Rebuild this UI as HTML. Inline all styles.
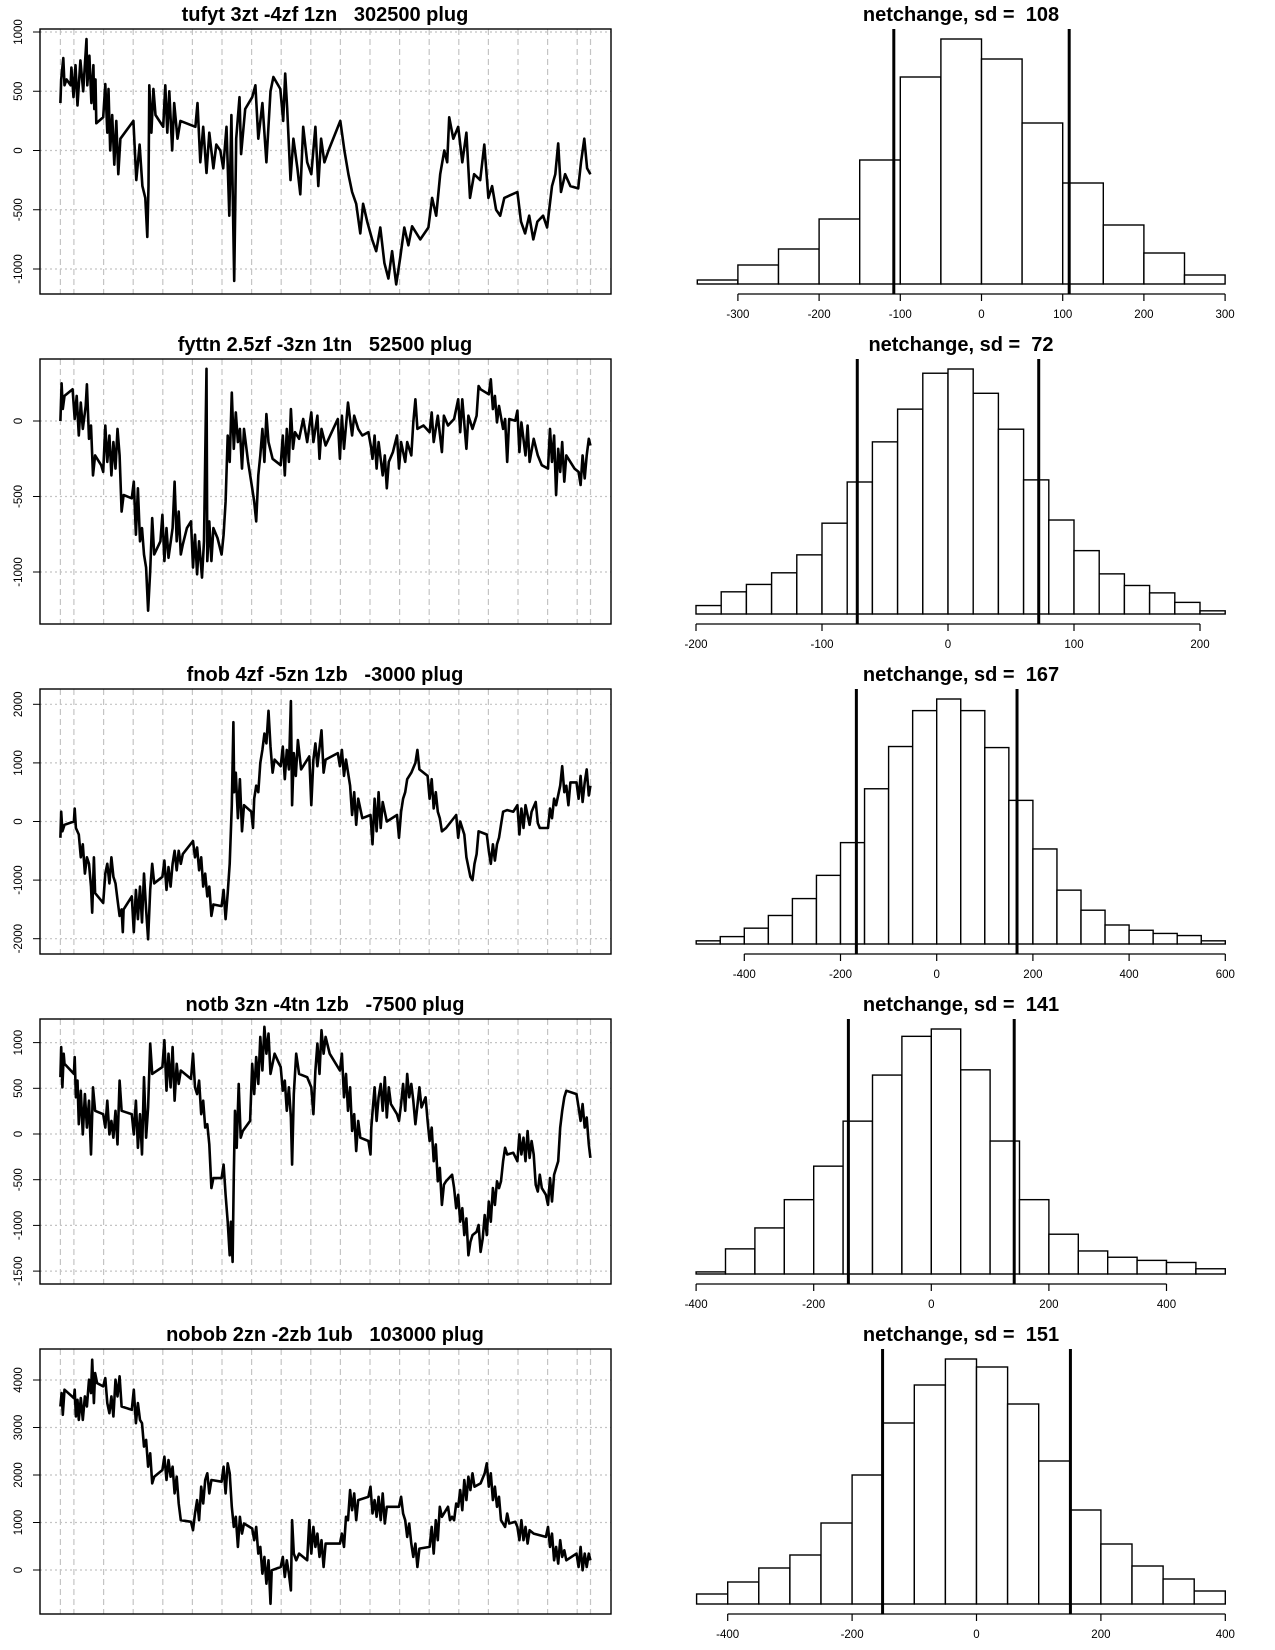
<!DOCTYPE html>
<html><head><meta charset="utf-8"><style>
body{margin:0;background:#fff}
svg{display:block;font-family:"Liberation Sans",sans-serif}
text{white-space:pre}
</style></head><body>
<svg id="chart" width="1275" height="1650" viewBox="0 0 1275 1650" xmlns="http://www.w3.org/2000/svg"></svg>
<script>
// ---- Left panel titles ----
const leftTitles = ["tufyt 3zt -4zf 1zn   302500 plug","fyttn 2.5zf -3zn 1tn   52500 plug","fnob 4zf -5zn 1zb   -3000 plug","notb 3zn -4tn 1zb   -7500 plug","nobob 2zn -2zb 1ub   103000 plug"];
const sdValues = [108,72,167,141,151];
// ---- y ticks for left panels ----
const yTicks1=[-1000,-500,0,500,1000];
const yTicks2=[-1000,-500,0];
const yTicks3=[-2000,-1000,0,1000,2000];
const yTicks4=[-1500,-1000,-500,0,500,1000];
const yTicks5=[0,1000,2000,3000,4000];
// ---- series (time index, value) ----
const t1=[0,2,7,10,15,25,27,32,37,42,49,56,64,66,71,76,81,83,86,88,105,110,115,118,122,127,132,137,142,147,179,186,194,201,208,213,216,218,223,228,233,252,257,262,267,274,279,287,294,331,336,343,350,358,365,375,382,392,399,407,414,419,426,431,439,443,453,470,478,485,495,505,515,522,539,546,551,556,564,571,581,588,595,605,615,625,632,639,647,657,686,696,706,715,725,735,742,752,764,774,784,794,804,813,823,833,843,853,862,882,902,911,921,931,941,948,953,963,975,985,995,1004,1014,1029,1039,1049,1058,1068,1078,1088,1120,1129,1139,1149,1159,1169,1183,1193,1205,1213,1220,1227,1237,1250,1269,1276,1284,1291,1299];
const v1=[400,600,780,550,600,550,700,450,720,380,760,500,940,550,800,400,720,350,600,230,280,560,150,520,0,300,-120,250,-200,100,250,-250,50,-300,-400,-730,-300,550,150,520,300,200,550,150,500,0,400,100,250,200,400,-100,200,-190,150,-150,50,0,-150,200,-550,300,-1100,100,450,-30,350,450,550,100,400,-100,500,620,520,250,650,350,-250,100,-150,-370,200,-100,-200,200,-300,100,-100,0,250,0,-200,-350,-450,-700,-450,-600,-750,-850,-650,-950,-1080,-850,-1130,-900,-650,-800,-640,-750,-650,-400,-550,-200,0,-100,280,100,200,-100,150,-400,-200,-250,50,-400,-300,-500,-550,-400,-350,-600,-700,-550,-750,-600,-550,-650,-300,-200,60,-350,-200,-300,-320,-100,100,-150,-200];
const t2=[0,3,6,10,30,35,40,45,50,55,62,65,70,75,80,85,100,105,110,115,120,125,130,135,140,145,150,155,175,180,185,190,195,200,205,210,215,220,225,230,245,250,255,260,265,275,280,285,290,295,300,310,320,325,330,335,340,347,352,358,360,365,370,375,385,395,400,405,410,415,420,425,430,435,440,445,450,460,470,475,480,485,490,495,500,505,510,520,540,545,550,555,560,565,570,575,585,595,605,615,620,630,635,640,650,665,680,685,690,695,705,715,720,730,740,755,762,765,770,775,780,790,795,800,805,815,825,830,835,845,850,860,865,870,875,890,905,910,915,925,935,940,950,965,975,980,985,995,1000,1010,1020,1025,1030,1050,1055,1060,1065,1070,1075,1085,1090,1095,1100,1115,1120,1125,1130,1140,1145,1150,1160,1170,1180,1195,1200,1205,1210,1215,1220,1225,1230,1235,1240,1260,1270,1275,1280,1285,1290,1295,1299];
const v2=[0,250,80,166,210,13,166,-96,122,-52,100,243,-118,-30,-360,-228,-293,-337,-30,-271,-96,-360,-140,-315,-52,-228,-600,-490,-512,-402,-753,-446,-797,-709,-884,-971,-1256,-993,-643,-884,-797,-621,-928,-709,-906,-709,-402,-797,-600,-884,-818,-709,-665,-971,-753,-1015,-797,-1037,-797,346,-928,-665,-928,-709,-775,-884,-753,-534,-96,-271,188,-184,57,-140,-52,-315,-52,-271,-446,-534,-665,-360,-228,-52,-271,46,-140,-250,-293,-96,-360,-52,-271,79,-184,-74,-118,13,-140,57,-140,35,-250,-52,-162,-74,13,-250,35,-184,122,-96,35,-52,-96,-74,-184,-250,-96,-315,-140,-360,-228,-446,-271,-206,-96,-315,-140,-271,-140,-228,-9,144,-52,-30,-74,57,-140,35,-206,35,-30,13,144,-74,144,-184,35,-52,35,232,210,177,276,79,166,-9,100,-52,13,-271,13,2,68,-206,-9,-228,-30,-271,-118,-228,-293,-315,-52,-271,-96,-490,-184,-337,-140,-402,-228,-315,-337,-424,-228,-380,-228,-118,-162];
const t3=[0,2,5,10,33,35,38,45,50,55,60,65,70,75,78,82,85,105,110,115,120,125,130,135,140,145,150,153,155,175,180,185,190,195,200,205,210,215,220,225,230,250,255,260,265,270,275,280,285,290,295,300,325,330,335,340,345,350,355,360,365,370,375,395,400,405,410,415,420,424,426,430,435,440,445,450,468,472,475,480,485,490,495,500,505,510,515,520,525,540,545,550,555,560,565,568,572,577,582,590,610,615,620,625,630,640,645,650,680,685,690,695,700,710,715,720,725,730,740,760,765,770,775,780,785,790,800,825,830,835,840,845,850,860,870,875,880,900,905,910,915,920,925,930,935,945,970,975,980,990,995,1000,1005,1010,1015,1020,1025,1045,1050,1055,1060,1065,1070,1075,1080,1085,1095,1110,1120,1125,1130,1135,1140,1150,1155,1165,1170,1175,1195,1200,1205,1210,1215,1225,1230,1235,1240,1245,1250,1265,1270,1275,1280,1285,1290,1295,1299];
const v3=[-278,167,-167,-56,0,222,-111,-222,-611,-389,-889,-611,-722,-1111,-1556,-611,-1222,-1389,-889,-722,-1056,-611,-944,-1056,-1333,-1611,-1500,-1889,-1500,-1278,-1889,-1167,-1667,-1111,-1722,-889,-1500,-2011,-1167,-722,-1056,-944,-667,-1167,-778,-1111,-722,-500,-833,-500,-722,-556,-333,-611,-444,-833,-611,-1111,-889,-1278,-1111,-1611,-1417,-1444,-1167,-1667,-1222,-722,278,1694,500,833,56,722,-167,278,167,-111,389,611,500,1000,1222,1500,1333,1889,1278,833,1056,944,1278,722,1222,889,2056,278,1167,778,1389,889,1111,278,1056,1333,944,1556,833,1056,1167,944,1222,778,1056,611,111,500,-56,389,56,111,-389,389,-167,500,-111,333,0,111,-278,167,389,500,722,833,1000,1222,889,778,389,722,222,500,167,56,-167,-111,111,-278,0,-222,-611,-778,-944,-1000,-722,-556,-167,-222,-500,-722,-389,-667,-389,-278,-56,167,194,167,278,-222,222,-111,278,-56,167,333,-28,-111,-111,222,56,389,278,611,944,500,611,278,667,667,389,778,333,667,889,444,611];
const t4=[0,2,5,8,10,33,35,38,42,45,50,55,60,65,70,75,80,85,105,110,115,120,125,130,135,140,145,150,175,180,185,190,195,200,205,210,215,220,225,250,255,260,265,270,275,280,285,290,295,320,325,330,335,340,345,350,355,360,365,370,375,395,400,405,410,415,418,422,425,428,432,437,442,447,465,470,475,480,485,490,495,500,505,510,515,525,540,545,550,555,560,565,568,572,578,585,605,615,620,625,630,635,640,645,650,660,685,690,695,700,705,710,715,720,725,730,735,755,760,762,766,770,775,780,785,790,795,800,805,810,825,830,835,840,845,850,855,860,865,870,880,885,895,900,905,910,915,920,925,930,935,940,945,960,965,970,975,980,985,990,995,1000,1005,1010,1020,1025,1030,1035,1040,1045,1050,1055,1060,1065,1070,1075,1080,1085,1090,1095,1110,1120,1125,1130,1135,1140,1145,1150,1155,1160,1165,1170,1175,1180,1190,1195,1200,1205,1210,1220,1225,1230,1235,1240,1265,1270,1275,1280,1285,1290,1295,1299];
const v4=[621,952,511,879,768,658,842,401,584,107,474,-4,437,70,364,-224,511,254,217,70,364,-4,143,-40,254,-114,584,254,217,-4,364,-151,217,-224,621,-40,291,989,658,732,1026,474,879,511,952,364,768,548,695,603,879,511,437,584,217,364,70,107,-114,-592,-482,-482,-335,-665,-959,-1327,-959,-1400,-445,254,-151,548,-40,33,143,768,437,842,548,1062,695,1173,879,1099,658,879,732,474,584,254,511,180,-335,437,879,658,621,511,217,695,989,658,1136,879,1062,879,695,879,401,658,254,511,33,217,-187,143,-40,-77,-224,70,291,511,143,401,548,254,621,180,511,327,217,143,327,548,254,658,401,548,364,107,511,291,401,143,-77,70,-298,-114,-518,-371,-776,-555,-518,-445,-592,-812,-665,-959,-812,-1106,-923,-1327,-1180,-1106,-1070,-996,-1290,-1143,-886,-1106,-739,-959,-592,-776,-518,-592,-518,-298,-151,-224,-206,-298,-4,-224,-40,-298,33,-261,-77,-224,-555,-629,-445,-592,-665,-776,-482,-739,-445,-298,70,254,401,474,437,291,143,327,70,180,-114,-261];
const t5=[0,3,6,10,33,35,38,42,45,50,55,60,65,70,75,78,82,85,90,105,110,115,120,125,130,135,140,145,150,175,180,185,190,195,200,205,210,215,220,225,230,250,255,260,265,270,275,280,285,290,295,320,325,330,335,340,345,350,355,360,365,370,395,400,405,410,415,420,425,430,435,440,445,450,470,475,480,485,490,495,500,505,510,515,518,540,545,550,555,560,565,568,572,578,585,605,610,615,620,625,630,635,640,645,650,685,690,695,700,705,710,715,720,725,730,755,760,765,770,775,780,785,790,795,800,830,835,840,845,850,855,860,865,870,875,880,905,910,915,920,925,930,935,950,955,960,965,970,975,980,985,990,995,1000,1005,1010,1015,1030,1040,1045,1050,1055,1060,1065,1070,1075,1080,1090,1095,1100,1115,1120,1125,1130,1135,1140,1145,1150,1160,1190,1195,1200,1205,1210,1215,1220,1225,1230,1235,1240,1265,1270,1275,1280,1285,1290,1295,1299];
const v5=[3443,3724,3267,3795,3619,3795,3231,3583,3161,3619,3161,3654,3443,4006,3724,4428,3513,4147,3935,3865,4041,3513,3302,3654,3231,4006,3654,4077,3443,3372,3795,3091,3513,3161,3091,2598,2739,2175,2457,1823,1964,2105,2386,1894,2316,1964,2175,1612,1964,1401,1049,1014,838,1190,1471,1049,1753,1401,1894,2035,1612,1894,1859,2175,1612,2246,2035,1331,908,1120,486,1120,767,979,873,627,908,345,486,-77,275,-289,204,-711,-7,63,275,-148,204,-77,-429,1049,345,204,345,204,1049,345,908,486,767,275,627,63,556,556,767,486,1120,1049,1682,1260,1612,1049,1471,1542,1753,1190,1471,1120,1542,1049,1612,979,1331,1331,1542,1190,1049,697,979,556,275,556,63,451,486,908,345,1049,627,1331,1120,1331,1049,1120,1049,1401,1331,1682,1260,1894,1471,1964,1682,2035,1753,1823,2035,2246,1753,2035,1471,1753,1331,1542,1049,908,1190,979,1014,908,627,1049,627,908,556,838,767,697,908,486,767,204,486,134,627,275,415,204,345,63,486,-7,345,63,345,204];
// ---- histogram data ----
const binStart=[-350,-200,-500,-400,-450];
const binWidth=[50,20,50,50,50];
const counts1=[4,19,35,65,124,207,245,225,161,101,59,31,9];
const counts2=[8,21,28,39,56,86,125,163,194,228,232,209,175,127,89,60,38,27,20,11,3];
const counts3=[3,7,15,27,43,65,96,147,187,221,232,221,186,136,90,51,32,18,13,10,8,3];
const counts4=[2,24,44,71,103,146,190,227,234,195,127,71,38,22,16,13,11,5];
const counts5=[10,22,36,49,81,129,181,219,245,237,200,143,94,60,38,25,13];
const xTicks1=[-300,-200,-100,0,100,200,300];
const xTicks2=[-200,-100,0,100,200];
const xTicks3=[-400,-200,0,200,400,600];
const xTicks4=[-400,-200,0,200,400];
const xTicks5=[-400,-200,0,200,400];

const NS="http://www.w3.org/2000/svg";
const svg=document.getElementById('chart');
function mk(tag,attrs,parent){const e=document.createElementNS(NS,tag);for(const k in attrs)e.setAttribute(k,attrs[k]);(parent||svg).appendChild(e);return e;}

const ts=[t1,t2,t3,t4,t5], vs=[v1,v2,v3,v4,v5];
const yTicksAll=[yTicks1,yTicks2,yTicks3,yTicks4,yTicks5];
const yZero=[150.5,421,821.5,1134,1570];
const yPer=[0.1185,0.151,0.0586,0.0914,0.0475];
const countsAll=[counts1,counts2,counts3,counts4,counts5];
const xTicksAll=[xTicks1,xTicks2,xTicks3,xTicks4,xTicks5];
const hZero=[981.5,948,936.7,931.3,976.5];
const hPer=[0.812,1.26,0.481,0.588,0.622];

for(let r=0;r<5;r++){
  const oy=330*r;
  const top=29+oy, bot=294+oy, L=40, R=611;
  const g=mk('g',{});
  
  
  const xs=t=>60.4+t*0.408;
  const ys=v=>yZero[r]-v*yPer[r];
  const ti=mk('text',{x:325,y:21+oy,'text-anchor':'middle','font-size':20,'font-weight':'bold'},g);
  ti.textContent=leftTitles[r];
  
  
  const gx=[60.4,73.9];for(let i=0;i<17;i++)gx.push(103.6+29.6*i);gx.push(590.5);
  gx.forEach(x=>{const l=mk('line',{x1:x,x2:x,y1:top,y2:bot,stroke:'#c4c4c4','stroke-width':1.2,'stroke-dasharray':'6,4'},g);
    
    });
  yTicksAll[r].forEach(v=>{const y=ys(v);
    const hl=mk('line',{x1:L,x2:R,y1:y,y2:y,stroke:'#c4c4c4','stroke-width':1.2,'stroke-dasharray':'2,3'},g);
    
    
    mk('line',{x1:33,x2:L,y1:y,y2:y,stroke:'#000','stroke-width':1},g);
    const tx=mk('text',{x:0,y:0,'text-anchor':'middle','font-size':11.5,transform:`translate(22,${y}) rotate(-90)`},g);
    tx.textContent=String(v);
    
    });
  const T=ts[r],V=vs[r];let d='';
  for(let i=0;i<T.length;i++)d+=(i?'L':'M')+xs(T[i]).toFixed(1)+','+ys(V[i]).toFixed(1);
  const p=mk('path',{d:d,fill:'none',stroke:'#000','stroke-width':2.6,'stroke-linejoin':'round'},g);
  
  
  const box=mk('rect',{x:L,y:top,width:R-L,height:bot-top,fill:'none',stroke:'#000','stroke-width':1.4},g);
  
  

  const hg=mk('g',{});
  
  
  const hx=v=>hZero[r]+v*hPer[r];
  const C=countsAll[r];const maxC=Math.max(...C);
  const base=284+oy;
  const hy=c=>base-c*245/maxC;
  const ht=mk('text',{x:961,y:21+oy,'text-anchor':'middle','font-size':20,'font-weight':'bold'},hg);
  ht.textContent='netchange, sd =  '+sdValues[r];
  
  
  C.forEach((c,i)=>{const a=binStart[r]+i*binWidth[r];const x0=hx(a),x1=hx(a+binWidth[r]);
    const b=mk('rect',{x:x0,y:hy(c),width:x1-x0,height:base-hy(c),fill:'#fff',stroke:'#000','stroke-width':1.4},hg);
    
    });
  const XT=xTicksAll[r];
  mk('line',{x1:hx(XT[0]),x2:hx(XT[XT.length-1]),y1:bot,y2:bot,stroke:'#000','stroke-width':1.2},hg);
  XT.forEach(v=>{const x=hx(v);mk('line',{x1:x,x2:x,y1:bot,y2:bot+7,stroke:'#000','stroke-width':1.2},hg);
    const tx=mk('text',{x:x,y:bot+24,'text-anchor':'middle','font-size':11.5},hg);
    tx.textContent=String(v);
    
    });
  [-1,1].forEach(s=>{const x=hx(s*sdValues[r]);
    const l=mk('line',{x1:x,x2:x,y1:top,y2:bot,stroke:'#000','stroke-width':3},hg);
    
    });
}
</script>
</body></html>
